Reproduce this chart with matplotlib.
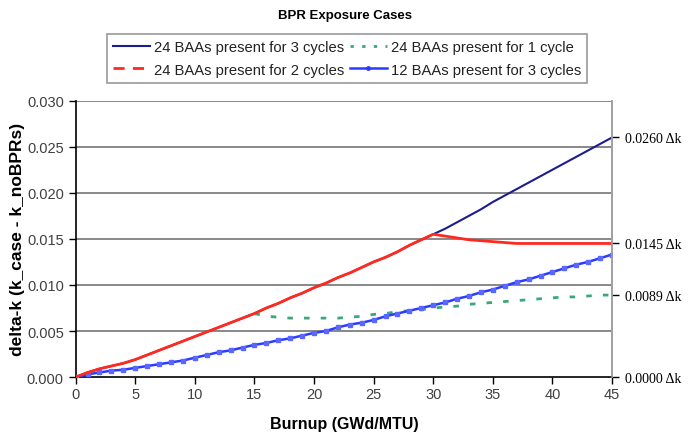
import matplotlib
matplotlib.use("Agg")
import matplotlib.pyplot as plt
from matplotlib.lines import Line2D

plt.rcParams['font.family'] = ['Liberation Sans', 'DejaVu Sans']

# Burnup steps (GWd/MTU)
burnup = list(range(0, 46))

# Shared delta-k while all 24 BAAs are in place (0-30 GWd/MTU)
shared_0_30 = [0.0000, 0.0005, 0.0009, 0.0012, 0.0015, 0.0019, 0.0024, 0.0029,
               0.0034, 0.0039, 0.0044, 0.0049, 0.0054, 0.0059, 0.0064, 0.0069,
               0.0075, 0.0080, 0.0086, 0.0091, 0.0097, 0.0102, 0.0108, 0.0113,
               0.0119, 0.0125, 0.0130, 0.0136, 0.0143, 0.0149, 0.0155]

# 24 BAAs for 3 cycles: continues rising after 30 GWd/MTU
three_cycle_tail = [0.0161, 0.0168, 0.0175, 0.0182, 0.0190, 0.0197, 0.0204, 0.0211,
                    0.0218, 0.0225, 0.0232, 0.0239, 0.0246, 0.0253, 0.0260]

# 24 BAAs for 2 cycles: levels off after removal
two_cycle_tail = [0.0153, 0.0151, 0.0149, 0.0148, 0.0147, 0.0146, 0.0145, 0.0145,
                  0.0145, 0.0145, 0.0145, 0.0145, 0.0145, 0.0145, 0.0145]

# 24 BAAs for 1 cycle: drops after 15 GWd/MTU
one_cycle_tail = [0.0066, 0.0065, 0.0064, 0.0064, 0.0064, 0.0064, 0.0064, 0.0065,
                  0.0066, 0.0068, 0.0069, 0.0071, 0.0072, 0.0073, 0.0075, 0.0076,
                  0.0077, 0.0079, 0.0080, 0.0081, 0.0082, 0.0083, 0.0084, 0.0085,
                  0.0086, 0.0087, 0.0087, 0.0088, 0.0089, 0.0089]

# 12 BAAs for 3 cycles
twelve_baa = [0.0000, 0.0003, 0.0005, 0.0007, 0.0008, 0.0010, 0.0012, 0.0014,
              0.0016, 0.0018, 0.0021, 0.0024, 0.0027, 0.0029, 0.0032, 0.0035,
              0.0037, 0.0040, 0.0042, 0.0045, 0.0048, 0.0050, 0.0054, 0.0057,
              0.0059, 0.0062, 0.0066, 0.0069, 0.0072, 0.0075, 0.0078, 0.0081,
              0.0085, 0.0088, 0.0092, 0.0095, 0.0099, 0.0103, 0.0106, 0.0110,
              0.0114, 0.0118, 0.0122, 0.0125, 0.0129, 0.0133]

three_cycle = shared_0_30 + three_cycle_tail
two_cycle = shared_0_30 + two_cycle_tail
one_cycle = shared_0_30[:16] + one_cycle_tail

labels = ["24 BAAs present for 3 cycles", "24 BAAs present for 2 cycles",
          "24 BAAs present for 1 cycle", "12 BAAs present for 3 cycles"]

end_ticks = [0.0000, 0.0089, 0.0145, 0.0260]
end_labels = ["%.4f \u0394k" % v for v in end_ticks]

x_ticks = list(range(0, 50, 5))
y_ticks = [0.000, 0.005, 0.010, 0.015, 0.020, 0.025, 0.030]

NAVY = '#1C1C8E'
RED = '#FF2A1F'
GREEN = '#3AA878'
BLUE = '#2B3BFF'

fig = plt.figure(figsize=(6.9, 4.35), dpi=100)
ax = fig.add_axes([0.1096, 0.1308, 0.7774, 0.6356])

for y in y_ticks[1:]:
    ax.axhline(y, color='#7f7f7f', lw=1.3, zorder=0)

ax.plot(burnup, three_cycle, color=NAVY, lw=1.5, zorder=2)
ax.plot(burnup[15:], one_cycle[15:], color=GREEN, lw=2.0, dashes=(2.0, 4.0), zorder=2)
ax.plot(burnup, twelve_baa, color=BLUE, lw=1.8, marker='s', ms=3.2,
        markerfacecolor='#5A67FF', markeredgecolor='#5A67FF', zorder=3)
ax.plot(burnup, two_cycle, color=RED, lw=2.0, zorder=4)

ax.set_xlim(0, 45)
ax.set_ylim(0, 0.030)
ax.set_xticks(x_ticks)
ax.set_yticks(y_ticks)
ax.set_yticklabels(["%.3f" % v for v in y_ticks])
ax.tick_params(axis='both', direction='out', length=5, width=1, colors='black',
               labelcolor='#404040', labelsize=10.5)
ax.tick_params(axis='x', pad=2)

for side in ['left', 'bottom']:
    ax.spines[side].set_color('black')
    ax.spines[side].set_linewidth(1.2)
ax.spines['top'].set_visible(False)
ax.spines['right'].set_color('#a0a0a0')
ax.spines['right'].set_linewidth(1.2)

ax.set_xlabel("Burnup (GWd/MTU)", fontsize=11.5, fontweight='bold', labelpad=11)
ax.set_ylabel("delta-k (k_case - k_noBPRs)", fontsize=12.5, fontweight='bold', labelpad=1)

ax2 = ax.twinx()
ax2.set_ylim(ax.get_ylim())
ax2.set_yticks(end_ticks)
ax2.set_yticklabels(end_labels, family=['Liberation Serif', 'DejaVu Serif'], fontsize=10)
ax2.tick_params(axis='y', direction='out', length=5, width=1, pad=4, colors='black')
for side in ['left', 'bottom', 'top']:
    ax2.spines[side].set_visible(False)
ax2.spines['right'].set_color('#a0a0a0')
ax2.spines['right'].set_linewidth(1.2)

fig.text(0.5, 0.963, "BPR Exposure Cases", ha='center', va='center',
         fontsize=9.5, fontweight='bold')

handles = [
    Line2D([], [], color=NAVY, lw=1.5),
    Line2D([], [], color=RED, lw=2.0, dashes=(4, 3)),
    Line2D([], [], color=GREEN, lw=2.0, dashes=(1.2, 3.0)),
    Line2D([], [], color=BLUE, lw=1.8, marker='o', ms=2.5),
]
leg = fig.legend(handles, labels, ncol=2, loc='upper center',
                 bbox_to_anchor=(0.503, 0.92), fontsize=10.6, frameon=True,
                 fancybox=False, edgecolor='#808080', handlelength=2.5,
                 handletextpad=0.25, columnspacing=0.4, labelspacing=0.55,
                 borderpad=0.45, borderaxespad=0)
leg.get_frame().set_linewidth(1.2)
for t in leg.get_texts():
    t.set_color('#222222')

fig.savefig("out.png", dpi=100)
